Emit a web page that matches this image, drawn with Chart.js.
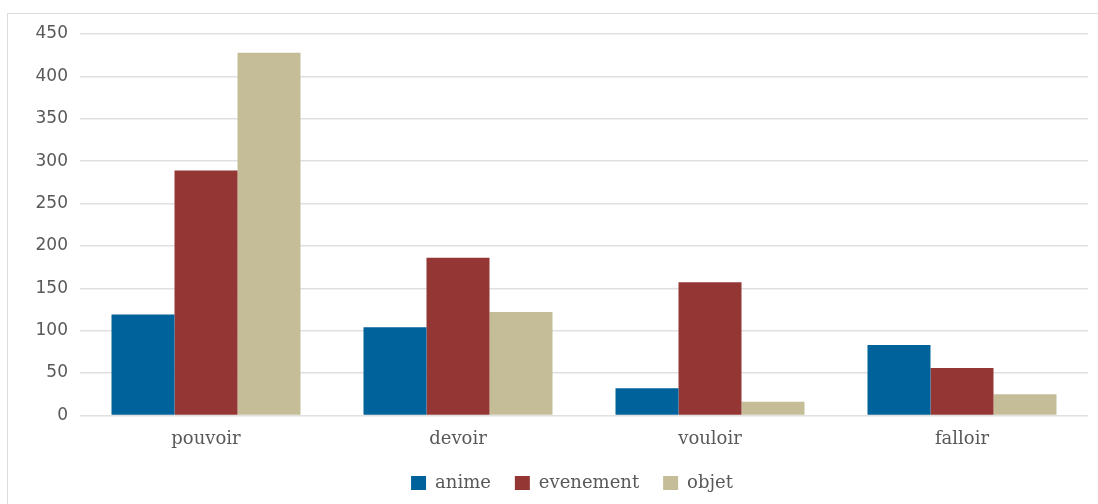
<!DOCTYPE html>
<html>
<head>
<meta charset="utf-8">
<script src="https://cdn.jsdelivr.net/npm/chart.js@4"></script>
<style>
  html, body { margin: 0; padding: 0; background: #fff; }
  body { width: 1098px; height: 504px; position: relative; overflow: hidden; }
  #frame {
    position: absolute; left: 7px; top: 13px; width: 1100px; height: 520px;
    border: 1px solid #dcdcdc; box-sizing: border-box;
  }
  #wrap { position: absolute; left: 0; top: 0; width: 1098px; height: 504px; }
</style>
</head>
<body>
<div id="frame"></div>
<div id="wrap"><canvas id="chart"></canvas></div>
<script>
// Verb categories and counts per semantic class
const verbs = ['pouvoir', 'devoir', 'vouloir', 'falloir'];
const anime = [119, 104, 32, 83];
const evenement = [289, 186, 157, 56];
const objet = [428, 122, 16, 25];

const COLORS = {
  anime: '#00629a',
  evenement: '#943634',
  objet: '#c4bd97',
};

const tickFont = { family: '"DejaVu Sans", Verdana, sans-serif', size: 17 };
const serifFont = { family: '"DejaVu Serif", Georgia, serif', size: 18 };

// nudge the legend row a bit to the right of the canvas centre
const legendShift = {
  id: 'legendShift',
  afterLayout(chart, _args, opts) {
    const legend = chart.legend;
    if (!legend) return;
    legend.left += opts.dx;
    legend.right += opts.dx;
    legend.top += opts.dy;
    legend.bottom += opts.dy;
  },
};

function dataset(label, data, color) {
  return {
    label,
    data,
    backgroundColor: color,
    borderColor: color,
    borderWidth: 0,
    categoryPercentage: 0.75,
    barPercentage: 1.0,
  };
}

new Chart(document.getElementById('chart'), {
  type: 'bar',
  data: {
    labels: verbs,
    datasets: [
      dataset('anime', anime, COLORS.anime),
      dataset('evenement', evenement, COLORS.evenement),
      dataset('objet', objet, COLORS.objet),
    ],
  },
  plugins: [legendShift],
  options: {
    responsive: true,
    maintainAspectRatio: false,
    animation: false,
    layout: { padding: { top: 34, right: 10, bottom: 1, left: 0 } },
    scales: {
      x: {
        grid: { display: false },
        border: { display: false },
        ticks: { color: '#595959', font: serifFont, padding: 5 },
        afterFit(scale) { scale.height -= 4; },
      },
      y: {
        min: 0,
        max: 450,
        ticks: { stepSize: 50, color: '#595959', font: tickFont, padding: 12 },
        grid: { color: '#e0e0e0', lineWidth: 1.5, drawTicks: false },
        border: { display: false },
        afterFit(scale) { scale.width = 80; },
      },
    },
    plugins: {
      legendShift: { dx: 28, dy: -1 },
      legend: {
        position: 'bottom',
        labels: {
          boxWidth: 15,
          boxHeight: 14,
          padding: 24,
          color: '#595959',
          font: serifFont,
        },
      },
      tooltip: { enabled: false },
    },
  },
});
</script>
</body>
</html>
